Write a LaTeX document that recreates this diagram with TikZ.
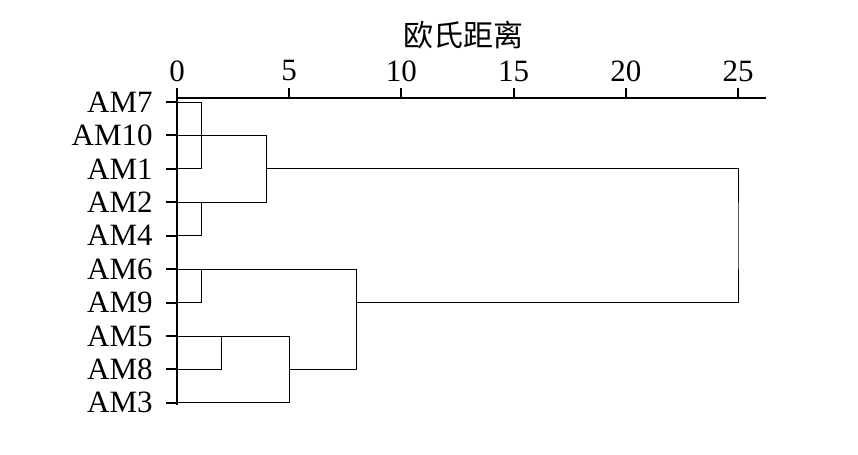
\documentclass[tikz,border=0pt]{standalone}
\usepackage{fontspec}
\setmainfont{Liberation Serif}
\newfontfamily\cjk{Noto Sans CJK SC}
\usepackage{tikz}
\usetikzlibrary{positioning}
\tikzstyle{axisline} = [draw,line width=1pt]
\tikzstyle{branch} = [draw,line width=0.5pt]
\tikzstyle{leaflabel} = [font=\fontsize{15.5}{18}\selectfont, inner sep=1pt]
\tikzstyle{ticklabel} = [font=\fontsize{15.5}{18}\selectfont, inner sep=1pt]
\tikzstyle{axistitle} = [font=\cjk\fontsize{15}{18}\selectfont]

\begin{document}
\begin{tikzpicture}[x=0.5pt,y=-0.5pt]
\useasboundingbox (0,0) rectangle (858,455);

	\def\ox{177};
	\def\u{22.44};
	\def\ay{98};
	\def\ry{102};
	\def\r{33.43};

% Title
   \node[axistitle] (title) at (463,35) {欧氏距离};

% Axes
   \coordinate (O) at (\ox,\ay);
   \coordinate (E) at (766,\ay);
   \coordinate (B) at (\ox,405);
   \draw[axisline] (E) -- (O) -- (B);

   \foreach \v in {0,5,...,25} {
      \coordinate (t\v) at (\ox+\v*\u,\ay);
      \coordinate (tt\v) at (\ox+\v*\u,\ay-10);
      \draw[axisline] (t\v) -- (tt\v);
      \node[ticklabel] (n\v) at (\ox+\v*\u,71) {\v};
   }

% Leaves
   \foreach \i/\name in {0/AM7, 1/AM10, 2/AM1, 3/AM2, 4/AM4, 5/AM6, 6/AM9, 7/AM5, 8/AM8, 9/AM3} {
      \coordinate (\name) at (\ox,\ry+\i*\r);
      \coordinate (k\name) at (166,\ry+\i*\r);
      \draw[axisline] (\name) -- (k\name);
      \node[leaflabel, left=5.5pt of k\name] (l\name) {\name};
   }

% Joins
   \foreach \name/\d/\i in {j1/1.07/1, j2/4/2, j3/1.07/3.5, j4/1.07/5.5, j5/2/7.5, j6/5/8, j7/8/6, j8/25/4}
      \coordinate (\name) at (\ox+\d*\u,\ry+\i*\r);

% Edges
   \draw[branch] (AM7) -| (j1) |- (AM1);
   \draw[branch] (AM10) -| (j2) |- (AM2);
   \draw[branch] (AM2) -| (j3) |- (AM4);
   \draw[branch] (AM6) -| (j4) |- (AM9);
   \draw[branch] (AM5) -| (j5) |- (AM8);
   \draw[branch] (AM5) -| (j6) |- (AM3);
   \draw[branch] (AM6) -| (j7) |- (j6);
   \draw[branch] (j2) -| (j8) |- (j7);

\end{tikzpicture}
\end{document}
